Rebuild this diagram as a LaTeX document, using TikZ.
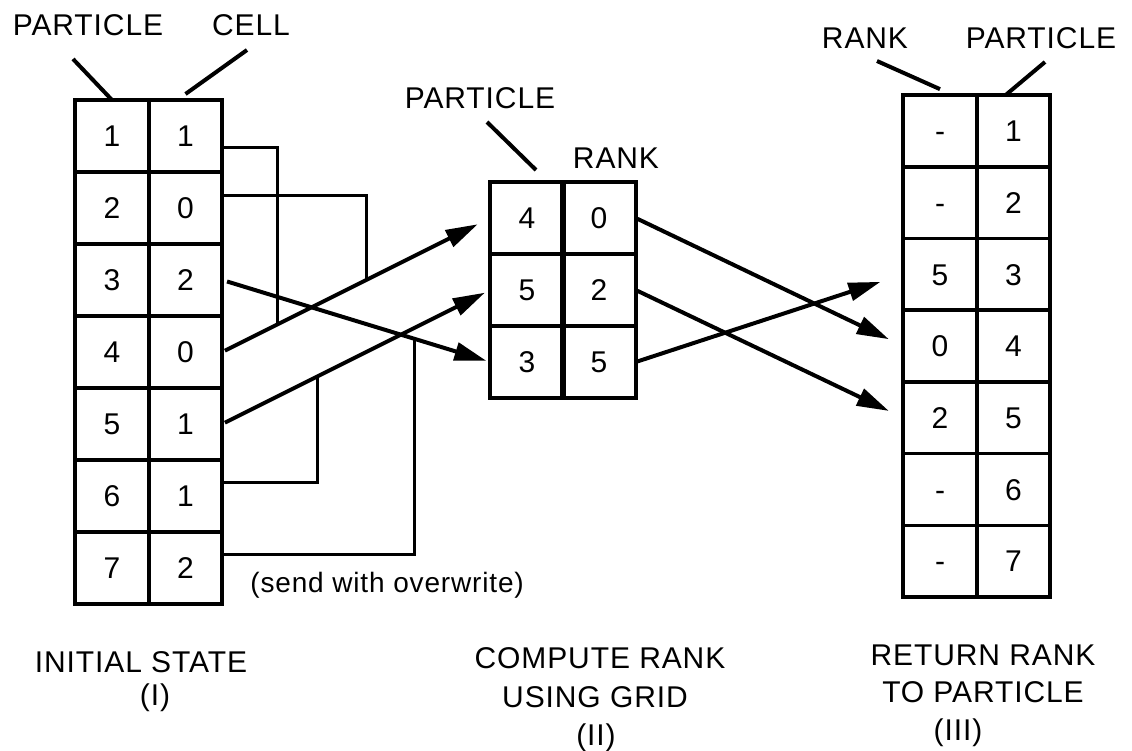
\documentclass[tikz,border=0pt]{standalone}
\usepackage{fontspec}
\setmainfont{Liberation Sans}[LetterSpace=3]
\usetikzlibrary{arrows.meta,calc}
\tikzset{
    cellbox/.style={
        draw,
        line width=1.8pt,
        minimum width=36.75pt,
        minimum height=36pt,
        inner sep=0pt,
        outer sep=0pt,
        text height=10.7pt,
        text depth=0pt,
        font=\fontsize{15}{18}\selectfont
    },
    headLabel/.style={
        inner sep=0pt,
        font=\fontsize{15}{18}\selectfont
    },
    leaderLine/.style={
        line width=2pt
    },
    sendArrow/.style={
        -{Triangle[length=16pt,width=9pt]},
        line width=2pt
    },
    feedLine/.style={
        line width=1.5pt
    }
}

\begin{document}
\begin{tikzpicture}[x=0.5pt,y=-0.5pt]
        \useasboundingbox (0,0) rectangle (1132,751);

        % (I) initial state
        \foreach \p/\c [count=\i] in {1/1,2/0,3/2,4/0,5/1,6/1,7/2} {
            \node[cellbox] (lp\i) at (112,64+72*\i) {\p};
            \node[cellbox] (lc\i) at (185.5,64+72*\i) {\c};
        }
        % (II) grid
        \foreach \p/\r [count=\i] in {4/0,5/2,3/5} {
            \node[cellbox] (mp\i) at (527,146+72*\i) {\p};
            \node[cellbox] (mr\i) at (599,146+72*\i) {\r};
        }
        % (III) returned ranks
        \foreach \r/\p [count=\i] in {-/1,-/2,5/3,0/4,2/5,-/6,-/7} {
            \node[cellbox,minimum height=35.85pt] (rr\i) at (940,59.3+71.7*\i) {\r};
            \node[cellbox,minimum height=35.85pt] (rp\i) at (1013.5,59.3+71.7*\i) {\p};
        }

        \node[headLabel] (lpLabel) at (88,25) {PARTICLE};
        \node[headLabel] (lcLabel) at (251,25) {CELL};
        \node[headLabel] (mpLabel) at (480,98) {PARTICLE};
        \node[headLabel] (mrLabel) at (616,158) {RANK};
        \node[headLabel] (rrLabel) at (865,38) {RANK};
        \node[headLabel] (rpLabel) at (1041,38) {PARTICLE};

        \coordinate (lpFoot) at (73,59);
        \coordinate (lcFoot) at (247,50);
        \coordinate (mpFoot) at (487,122);
        \coordinate (rrFoot) at (877,61);
        \coordinate (rpFoot) at (1045,62);
        \draw[leaderLine] (lpFoot) -- (lp1.north);
        \draw[leaderLine] (lcFoot) -- ([yshift=3pt]lc1.north);
        \draw[leaderLine] (mpFoot) -- ([xshift=4.5pt,yshift=6pt]mp1.north);
        \draw[leaderLine] (rrFoot) -- ([yshift=3pt]rr1.north);
        \draw[leaderLine] (rpFoot) -- ([xshift=-4pt]rp1.north);

        % send to grid
        \draw[sendArrow,shorten <=1.5pt,shorten >=7pt] (lc4.east) -- (mp1.west);
        \draw[sendArrow,shorten <=1.5pt,shorten >=3pt] (lc5.east) -- (mp2.west);
        \draw[sendArrow,shorten <=2.5pt,shorten >=2pt] (lc3.east) -- (mp3.west);

        \coordinate (j1) at ($(lc4.east)!0.2045!(mp1.west)$);
        \coordinate (j2) at ($(lc4.east)!0.539!(mp1.west)$);
        \coordinate (j6) at ($(lc5.east)!0.357!(mp2.west)$);
        \coordinate (j7) at ($(lc3.east)!0.7175!(mp3.west)$);
        \draw[feedLine] ([yshift=-5.5pt]lc1.east) -| (j1);
        \draw[feedLine] ([yshift=6.5pt]lc2.east) -| (j2);
        \draw[feedLine] ([yshift=7pt]lc6.east) -| (j6);
        \draw[feedLine] ([yshift=7pt]lc7.east) -| (j7);

        \node[anchor=west,inner sep=0pt,font=\fontsize{14}{17}\selectfont] (sendNote) at (250,585) {(send with overwrite)};

        % return rank
        \draw[sendArrow,shorten <=1pt,shorten >=8pt] (mr1.east) -- (rr4.west);
        \draw[sendArrow,shorten <=1pt,shorten >=8pt] (mr2.east) -- (rr5.west);
        \draw[sendArrow,shorten <=1pt,shorten >=12pt] (mr3.east) -- (rr3.west);

        \node[headLabel] (capOneA) at (141,662) {INITIAL STATE};
        \node[headLabel] (capOneB) at (155,698) {(I)};
        \node[headLabel] (capTwoA) at (600,658) {COMPUTE RANK};
        \node[headLabel] (capTwoB) at (595,697) {USING GRID};
        \node[headLabel] (capTwoC) at (596,738) {(II)};
        \node[headLabel] (capThreeA) at (983,655) {RETURN RANK};
        \node[headLabel] (capThreeB) at (983,692) {TO PARTICLE};
        \node[headLabel] (capThreeC) at (958,733) {(III)};
    \end{tikzpicture}
\end{document}
